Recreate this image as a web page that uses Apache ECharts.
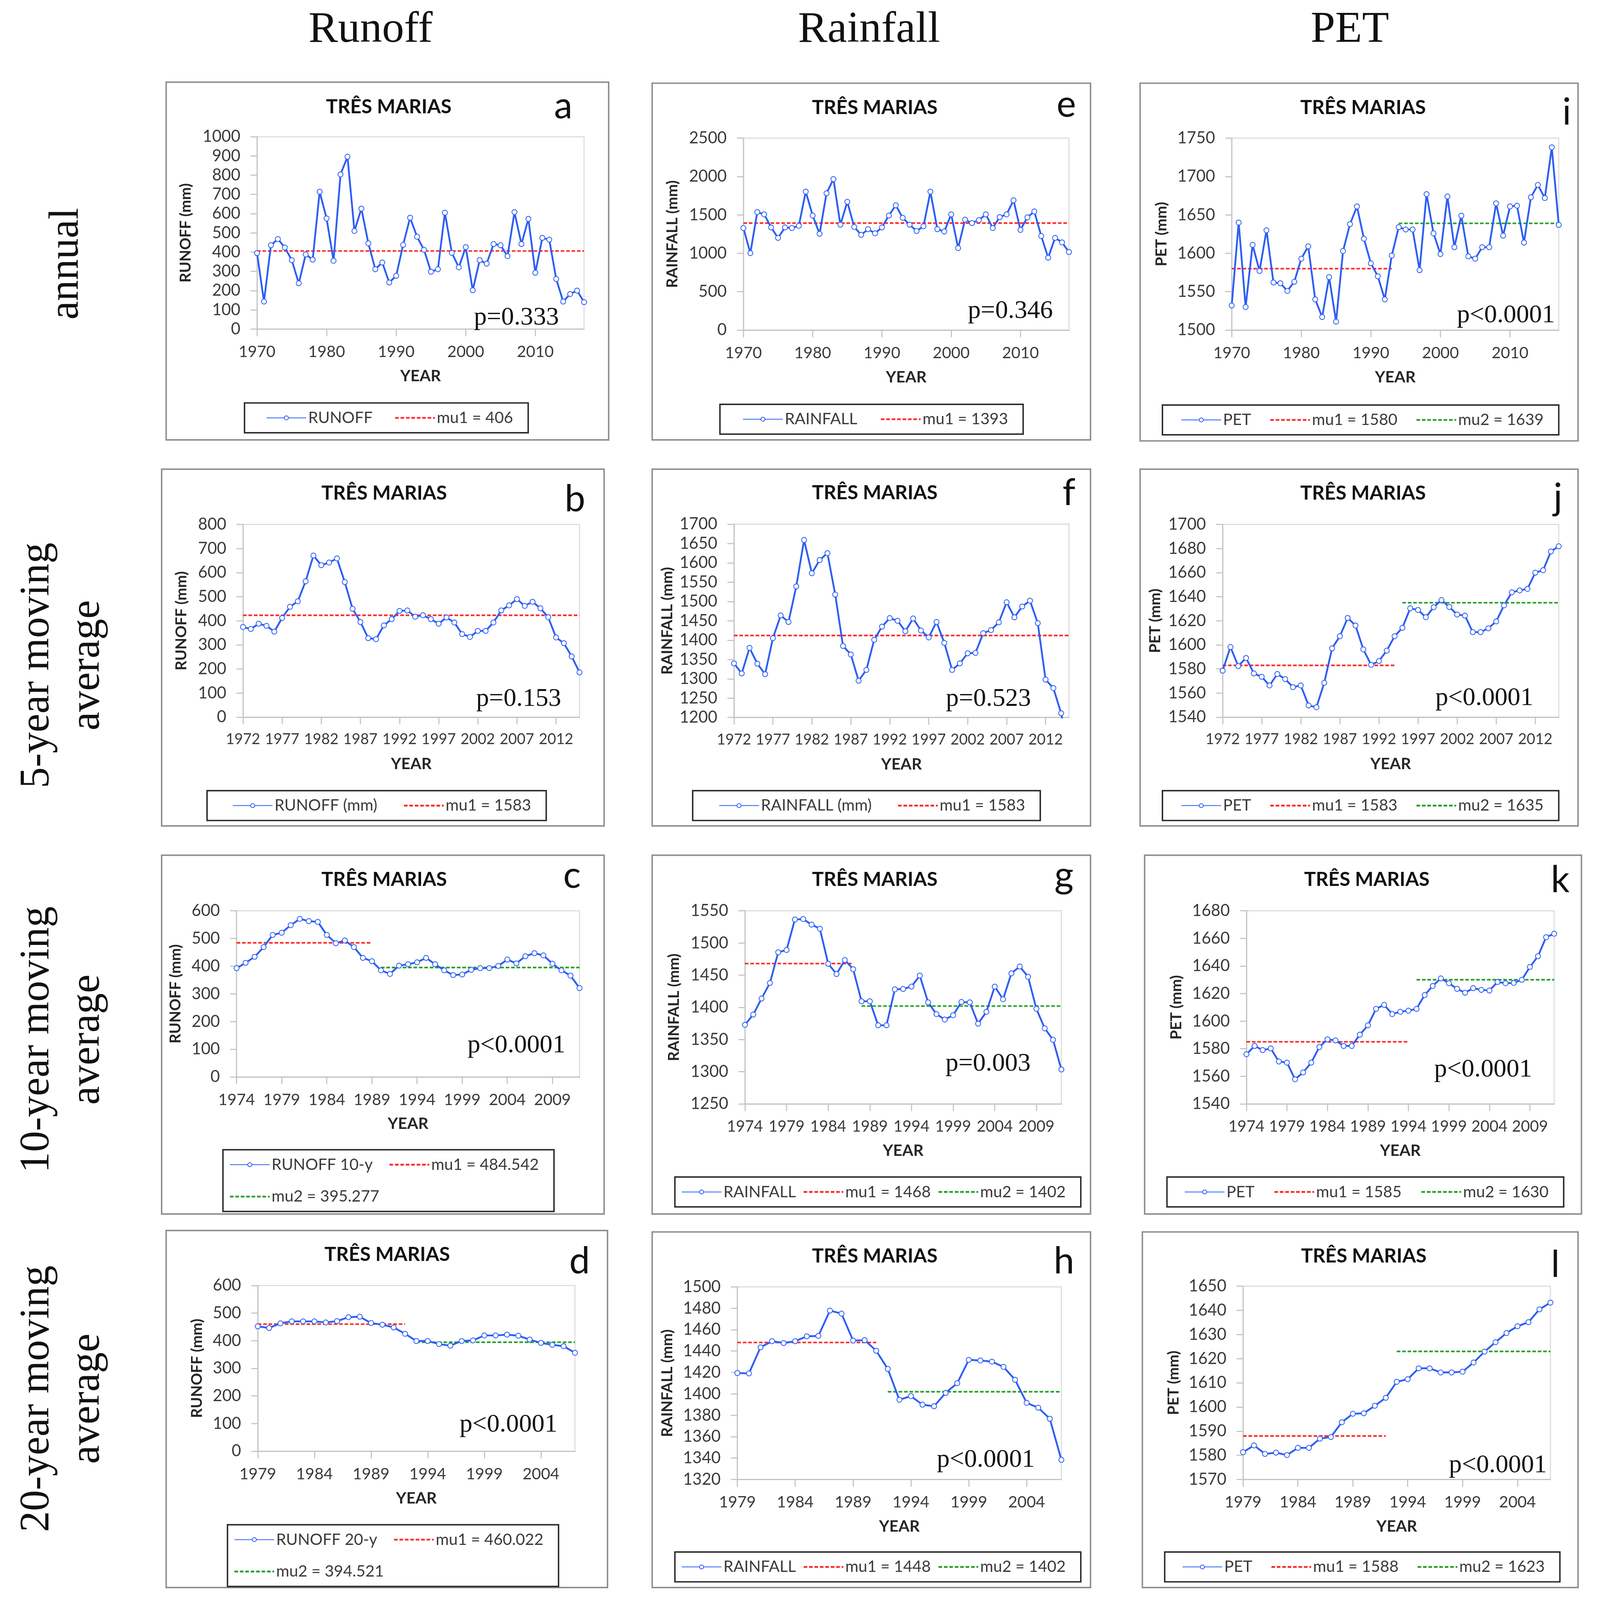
<!DOCTYPE html>
<html><head><meta charset="utf-8">
<script src="https://cdn.jsdelivr.net/npm/echarts@6/dist/echarts.min.js"></script>
<style>html,body{margin:0;padding:0;background:#fff;overflow:hidden}#c{width:100vw;height:100vh}</style>
</head><body><div id="c"></div>
<script>
// ---------- categories ----------
const years1970_2017 = ['1970','1971','1972','1973','1974','1975','1976','1977','1978','1979','1980','1981','1982','1983','1984','1985','1986','1987','1988','1989','1990','1991','1992','1993','1994','1995','1996','1997','1998','1999','2000','2001','2002','2003','2004','2005','2006','2007','2008','2009','2010','2011','2012','2013','2014','2015','2016','2017'];
const years1972_2015 = ['1972','1973','1974','1975','1976','1977','1978','1979','1980','1981','1982','1983','1984','1985','1986','1987','1988','1989','1990','1991','1992','1993','1994','1995','1996','1997','1998','1999','2000','2001','2002','2003','2004','2005','2006','2007','2008','2009','2010','2011','2012','2013','2014','2015'];
const years1974_2012 = ['1974','1975','1976','1977','1978','1979','1980','1981','1982','1983','1984','1985','1986','1987','1988','1989','1990','1991','1992','1993','1994','1995','1996','1997','1998','1999','2000','2001','2002','2003','2004','2005','2006','2007','2008','2009','2010','2011','2012'];
const years1979_2007 = ['1979','1980','1981','1982','1983','1984','1985','1986','1987','1988','1989','1990','1991','1992','1993','1994','1995','1996','1997','1998','1999','2000','2001','2002','2003','2004','2005','2006','2007'];

// ---------- series values ----------
const runoffAnnual = [395,143,436,468,424,358,238,388,361,714, 575,355,804,896,510,626,446,311,346,242, 277,438,579,480,412,298,311,605,396,321, 426,202,358,340,442,436,379,608,442,573, 293,474,465,260,143,182,200,140];
const rainfallAnnual = [1329,1002,1536,1507,1337,1201,1337,1329,1358,1803, 1492,1254,1782,1966,1373,1670,1343,1240,1314,1260, 1337,1492,1625,1462,1373,1290,1352,1803,1314,1284, 1507,1068,1438,1394,1432,1507,1329,1471,1507,1690, 1305,1468,1545,1225,943,1201,1142,1017];
const petAnnual = [1532,1640,1530,1611,1577,1630,1562,1561,1551,1563, 1593,1609,1540,1517,1569,1511,1603,1638,1661,1619, 1587,1570,1540,1597,1634,1631,1631,1578,1677,1626, 1599,1674,1608,1649,1596,1593,1608,1608,1665,1623, 1661,1662,1614,1673,1689,1672,1738,1637];

const runoff5y = [374,366,388,379,355,412,458,481,564,671, 631,642,659,561,450,395,328,324,381,407, 441,443,417,423,407,388,414,393,345,333, 358,358,393,443,464,490,462,479,452,415, 331,307,252,186];
const rainfall5y = [1340,1314,1380,1339,1312,1405,1464,1447,1539,1659, 1573,1607,1625,1518,1385,1363,1295,1323,1401,1435, 1457,1450,1423,1456,1425,1407,1447,1393,1323,1340, 1366,1367,1418,1426,1446,1498,1459,1487,1502,1444, 1298,1276,1211,1106];
const pet5y = [1578.6,1598.2,1582.4,1589.1,1576.3,1573.5,1566.3,1575.8,1571.6,1564.9, 1566.3,1549.7,1548.2,1568.5,1597.1,1607.2,1622.4,1616.1,1596.3,1583.4, 1586.6,1595.2,1607.2,1614.2,1630.4,1629,1623,1631.3,1637.2,1631.5, 1625.2,1624.3,1610.6,1610.6,1613.8,1619.5,1632.8,1643.7,1645.2,1646.5, 1660,1662,1677.6,1681.9];

const runoff10y = [393,412,434,469,513,521,548,571,563,560, 513,483,493,469,430,418,385,372,402,407, 414,430,407,385,368,370,387,393,393,401, 424,410,436,447,439,409,385,366,321];
const rainfall10y = [1372.8,1388.8,1413.7,1437.9,1485.6,1489.1,1536.5,1537.2,1528.6,1522.2, 1467.8,1451.8,1473.5,1459.3,1409.4,1409.4,1372.1,1372.1,1427.9,1428.6, 1432.2,1449.3,1407.7,1389.5,1381,1387.7,1408.4,1407.7,1374.6,1393.1, 1432.2,1412.6,1452.8,1463.5,1447.5,1397.7,1367.4,1349.6,1303.4];
const pet10y = [1576,1582,1579,1580.2,1570.7,1569.9,1557.8,1562.8,1569.9,1581.2, 1586.8,1586,1582,1582,1590.2,1597,1608.9,1611.8,1605.1,1606.8, 1607.6,1608.9,1618.9,1625.5,1631,1627.5,1623.4,1620.6,1623.9,1622.7, 1622.2,1628.4,1627.5,1627.7,1630,1639.3,1647.1,1660.9,1663.4];

const runoff20y = [452,446,463,470,470,470,466,471,485,487, 464,458,448,425,399,399,388,382,399,401, 419,419,422,418,404,392,385,380,356];
const rainfall20y = [1419.5,1419.1,1443.5,1449.2,1447.5,1449.2,1453.8,1454.1,1477.8,1475, 1449.8,1450.2,1440.3,1423.3,1394.5,1397.9,1389.9,1388.4,1400.9,1410, 1431.8,1431.2,1430.1,1425.2,1413.2,1391.6,1387.1,1376.8,1338.4];
const pet20y = [1581.3,1584.1,1580.6,1581.1,1580.1,1583.1,1583.1,1586.9,1587.6,1593.7, 1597.2,1597.4,1600.5,1603.8,1610.4,1611.5,1616,1616,1614.3,1614.3, 1614.6,1618.4,1622.9,1626.8,1630.6,1633.4,1635.1,1640.4,1643.2];

// ---------- segment means: [legend label, value, from year, to year] ----------
const runoffAnnualMeans   = [['mu1 = 406', 406, 1970, 2017]];
const rainfallAnnualMeans = [['mu1 = 1393', 1393, 1970, 2017]];
const petAnnualMeans      = [['mu1 = 1580', 1580, 1970, 1993], ['mu2 = 1639', 1639, 1994, 2017]];
const runoff5yMeans       = [['mu1 = 1583', 423, 1972, 2015]];
const rainfall5yMeans     = [['mu1 = 1583', 1412, 1972, 2015]];
const pet5yMeans          = [['mu1 = 1583', 1583, 1972, 1994], ['mu2 = 1635', 1635, 1995, 2015]];
const runoff10yMeans      = [['mu1 = 484.542', 484.542, 1974, 1989], ['mu2 = 395.277', 395.277, 1990, 2012]];
const rainfall10yMeans    = [['mu1 = 1468', 1468, 1974, 1987], ['mu2 = 1402', 1402, 1988, 2012]];
const pet10yMeans         = [['mu1 = 1585', 1585, 1974, 1994], ['mu2 = 1630', 1630, 1995, 2012]];
const runoff20yMeans      = [['mu1 = 460.022', 460.022, 1979, 1992], ['mu2 = 394.521', 394.521, 1993, 2007]];
const rainfall20yMeans    = [['mu1 = 1448', 1448, 1979, 1991], ['mu2 = 1402', 1402, 1992, 2007]];
const pet20yMeans         = [['mu1 = 1588', 1588, 1979, 1992], ['mu2 = 1623', 1623, 1993, 2007]];

// ---------- y-axis ticks: [min, max, step] ----------
const ticksRunoffAnnual = [0, 1000, 100];
const ticksRainfallAnnual = [0, 2500, 500];
const ticksPetAnnual = [1500, 1750, 50];
const ticksRunoff5y = [0, 800, 100];
const ticksRainfall5y = [1200, 1700, 50];
const ticksPet5y = [1540, 1700, 20];
const ticksRunoff10y = [0, 600, 100];
const ticksRainfall10y = [1250, 1550, 50];
const ticksPet10y = [1540, 1680, 20];
const ticksRunoff20y = [0, 600, 100];
const ticksRainfall20y = [1320, 1500, 20];
const ticksPet20y = [1570, 1650, 10];

// ---------- texts ----------
const columnHeaders = ['Runoff', 'Rainfall', 'PET'];
const rowHeaders = ['annual', '5-year moving\naverage', '10-year moving\naverage', '20-year moving\naverage'];
const stationTitle = 'TRÊS MARIAS';
const pTexts = ['p=0.333','p=0.346','p<0.0001','p=0.153','p=0.523','p<0.0001','p<0.0001','p=0.003','p<0.0001','p<0.0001','p<0.0001','p<0.0001'];
const panelLetters = ['a','e','i','b','f','j','c','g','k','d','h','l'];

// ---------- panel definitions (data refs + layout in reference pixels) ----------
const panels = [
 {cats:years1970_2017, vals:runoffAnnual, name:'RUNOFF', yName:'RUNOFF (mm)', ticks:ticksRunoffAnnual, means:runoffAnnualMeans, every:10, xf:44,
  box:[439,238,1608,1274], grid:[679,396,1543,953], title:[1027,310], letter:[1488,308], p:[1252,921], leg:[646,1167], padL:57, gap:57, yGap:167},
 {cats:years1970_2017, vals:rainfallAnnual, name:'RAINFALL', yName:'RAINFALL (mm)', ticks:ticksRainfallAnnual, means:rainfallAnnualMeans, every:10, xf:44,
  box:[1723,241,2881,1274], grid:[1964,400,2824,956], title:[2311,312], letter:[2817,304], p:[2557,901], leg:[1902,1171], padL:60, gap:60, yGap:166},
 {cats:years1970_2017, vals:petAnnual, name:'PET', yName:'PET (mm)', ticks:ticksPetAnnual, means:petAnnualMeans, every:10, xf:44,
  box:[3012,241,4169,1277], grid:[3254,400,4118,956], title:[3601,312], letter:[4139,326], p:[3849,914], leg:[3071,1173], padL:49, gap:48, yGap:164},
 {cats:years1972_2015, vals:runoff5y, name:'RUNOFF (mm)', yName:'RUNOFF (mm)', ticks:ticksRunoff5y, means:runoff5yMeans, every:5, xf:41,
  box:[427,1359,1596,2392], grid:[642,1519,1531,2077], title:[1015,1429], letter:[1519,1446], p:[1258,2025], leg:[547,2290], padL:67, gap:68, yGap:142},
 {cats:years1972_2015, vals:rainfall5y, name:'RAINFALL (mm)', yName:'RAINFALL (mm)', ticks:ticksRainfall5y, means:rainfall5yMeans, every:5, xf:41,
  box:[1723,1359,2881,2392], grid:[1939,1518,2824,2078], title:[2311,1428], letter:[2824,1428], p:[2499,2025], leg:[1830,2290], padL:69, gap:67, yGap:155},
 {cats:years1972_2015, vals:pet5y, name:'PET', yName:'PET (mm)', ticks:ticksPet5y, means:pet5yMeans, every:5, xf:41,
  box:[3012,1359,4169,2392], grid:[3230,1519,4118,2077], title:[3601,1429], letter:[4116,1442], p:[3792,2022], leg:[3071,2290], padL:49, gap:48, yGap:157},
 {cats:years1974_2012, vals:runoff10y, name:'RUNOFF 10-y', yName:'RUNOFF (mm)', ticks:ticksRunoff10y, means:runoff10yMeans, every:5, wrap:true, xf:44,
  box:[427,2477,1596,3516], grid:[625,2638,1531,3119], title:[1015,2548], letter:[1511,2537], p:[1235,3028], leg:[589,3330], padL:16, gap:42, yGap:140},
 {cats:years1974_2012, vals:rainfall10y, name:'RAINFALL', yName:'RAINFALL (mm)', ticks:ticksRainfall10y, means:rainfall10yMeans, every:5, xf:43,
  box:[1723,2477,2881,3516], grid:[1968,2638,2804,3197], title:[2311,2548], letter:[2811,2537], p:[2498,3081], leg:[1783,3409], padL:17, gap:18, yGap:166},
 {cats:years1974_2012, vals:pet10y, name:'PET', yName:'PET (mm)', ticks:ticksPet10y, means:pet10yMeans, every:5, xf:43,
  box:[3024,2477,4178,3516], grid:[3293,2638,4106,3197], title:[3611,2548], letter:[4122,2550], p:[3789,3099], leg:[3083,3409], padL:46, gap:50, yGap:164},
 {cats:years1979_2007, vals:runoff20y, name:'RUNOFF 20-y', yName:'RUNOFF (mm)', ticks:ticksRunoff20y, means:runoff20yMeans, every:5, wrap:true, xf:44,
  box:[439,3564,1605,4598], grid:[681,3723,1519,4203], title:[1023,3634], letter:[1531,3654], p:[1214,4127], leg:[601,4416], padL:16, gap:42, yGap:139},
 {cats:years1979_2007, vals:rainfall20y, name:'RAINFALL', yName:'RAINFALL (mm)', ticks:ticksRainfall20y, means:rainfall20yMeans, every:5, xf:44,
  box:[1723,3568,2881,4598], grid:[1948,3727,2804,4285], title:[2311,3638], letter:[2811,3654], p:[2475,4229], leg:[1783,4495], padL:17, gap:18, yGap:164},
 {cats:years1979_2007, vals:pet20y, name:'PET', yName:'PET (mm)', ticks:ticksPet20y, means:pet20yMeans, every:5, xf:44,
  box:[3018,3568,4169,4598], grid:[3284,3725,4096,4285], title:[3603,3638], letter:[4109,3664], p:[3828,4244], leg:[3077,4495], padL:46, gap:48, yGap:162}
];

// ---------- scale layout to the actual viewport ----------
const el = document.getElementById('c');
const VW = el.clientWidth || 4227, VH = el.clientHeight || 4634;
const sx = VW / 4227, sy = VH / 4634, sf = Math.sqrt(sx * sy);
const X = v => v * sx, Y = v => v * sy, F = v => v * sf;

const BLUE = '#2d5ef5', RED = '#ff2b2b', GREEN = '#27a127';
const AX = '#c4c4c4', LBL = '#3a3a3a';

const option = {backgroundColor:'#ffffff', animation:false, textStyle:{fontFamily:'Lato'},
  grid:[], xAxis:[], yAxis:[], series:[], legend:[], graphic:[]};

function txt(text, x, y, font, align, valign, extra) {
  return Object.assign({type:'text', x:x, y:y, silent:true, z:50,
    style:{text:text, font:font, fill:'#111', textAlign:align, align:align,
           textVerticalAlign:valign, verticalAlign:valign}}, extra || {});
}

panels.forEach((p, i) => {
  const g = p.grid;
  option.grid.push({left:X(g[0]), top:Y(g[1]), width:X(g[2]-g[0]), height:Y(g[3]-g[1]),
    show:true, borderColor:'#dcdcdc', borderWidth:F(3), containLabel:false});
  option.xAxis.push({type:'category', gridIndex:i, data:p.cats, boundaryGap:false,
    name:'YEAR', nameLocation:'middle', nameGap:Y(136) - F(22),
    nameTextStyle:{fontFamily:'Lato', fontWeight:'bold', fontSize:F(44), color:'#262626'},
    axisLine:{lineStyle:{color:AX, width:F(3)}},
    axisTick:{show:true, interval:p.every-1, length:F(20), lineStyle:{color:AX, width:F(3)}},
    axisLabel:{interval:p.every-1, margin:Y(66) - F(22), fontFamily:'Lato', fontSize:F(p.xf), color:LBL},
    splitLine:{show:false}});
  option.yAxis.push({type:'value', gridIndex:i, min:p.ticks[0], max:p.ticks[1], interval:p.ticks[2],
    name:p.yName, nameLocation:'middle', nameGap:X(p.yGap + 21) - F(21),
    nameTextStyle:{fontFamily:'Lato', fontWeight:'bold', fontSize:F(42), color:'#262626'},
    axisLine:{show:true, lineStyle:{color:AX, width:F(3)}},
    axisTick:{show:true, length:F(18), lineStyle:{color:AX, width:F(3)}},
    axisLabel:{margin:X(44), fontFamily:'Lato', fontSize:F(45), color:LBL, formatter: v => String(v)},
    splitLine:{show:false}});
  option.series.push({type:'line', name:p.name, xAxisIndex:i, yAxisIndex:i, data:p.vals,
    symbol:'emptyCircle', symbolSize:F(14), showAllSymbol:true, z:4,
    lineStyle:{color:BLUE, width:F(5)}, itemStyle:{color:BLUE, borderColor:BLUE, borderWidth:F(3.5)}});
  const names = [p.name];
  p.means.forEach((m, k) => {
    const col = k ? GREEN : RED;
    option.series.push({type:'line', name:m[0], xAxisIndex:i, yAxisIndex:i,
      data:p.cats.map(c => (+c >= m[2] && +c <= m[3]) ? m[1] : null),
      symbol:'none', z:3, connectNulls:false,
      lineStyle:{color:col, width:F(4.5), type:[F(10), F(5)]}, itemStyle:{color:col, opacity:0}});
    if (p.wrap && k === 1) names.push('');
    names.push({name:m[0], itemStyle:{opacity:0}, lineStyle:{color:col, width:F(5), type:[F(10), F(5)]}});
  });
  option.legend.push({show:true, left:X(p.leg[0]), top:Y(p.leg[1]), orient:'horizontal', data:names,
    selectedMode:false, itemWidth:X(105), itemHeight:F(14), itemGap:X(p.gap),
    padding:[Y(20), X(40), Y(20), X(p.padL)], borderColor:'#2a2a2a', borderWidth:F(4),
    textStyle:{fontFamily:'Lato', fontSize:F(44), color:'#3a3a3a'}});
  const b = p.box;
  option.graphic.push({type:'rect', silent:true, z:1,
    shape:{x:X(b[0]), y:Y(b[1]), width:X(b[2]-b[0]), height:Y(b[3]-b[1])},
    style:{fill:'none', stroke:'#8c8c8c', lineWidth:F(4)}});
  option.graphic.push(txt(stationTitle, X(p.title[0]), Y(p.title[1]), 'bold ' + F(54) + 'px Lato', 'center', 'middle'));
  option.graphic.push(txt(panelLetters[i], X(p.letter[0]), Y(p.letter[1]), F(102) + 'px Lato', 'center', 'middle'));
  option.graphic.push(txt(pTexts[i], X(p.p[0]), Y(p.p[1]), F(71) + 'px "Liberation Serif"', 'left', 'middle'));
});

// column headers
const headerX = [979, 2296, 3566];
columnHeaders.forEach((h, k) => option.graphic.push(txt(h, X(headerX[k]), Y(88), F(122) + 'px "Liberation Serif"', 'center', 'middle')));
// row headers (rotated)
const rowY = [764, 1927, 3011, 4051];
const rowX = [176, 165, 165, 165];
rowHeaders.forEach((h, k) => {
  const t = txt(h, X(rowX[k]), Y(rowY[k]), F(116) + 'px "Liberation Serif"', 'center', 'middle', {rotation:Math.PI/2});
  t.style.lineHeight = X(133);
  option.graphic.push(t);
});

const chart = echarts.init(el, null, {renderer:'canvas'});
chart.setOption(option);
</script>
</body></html>
